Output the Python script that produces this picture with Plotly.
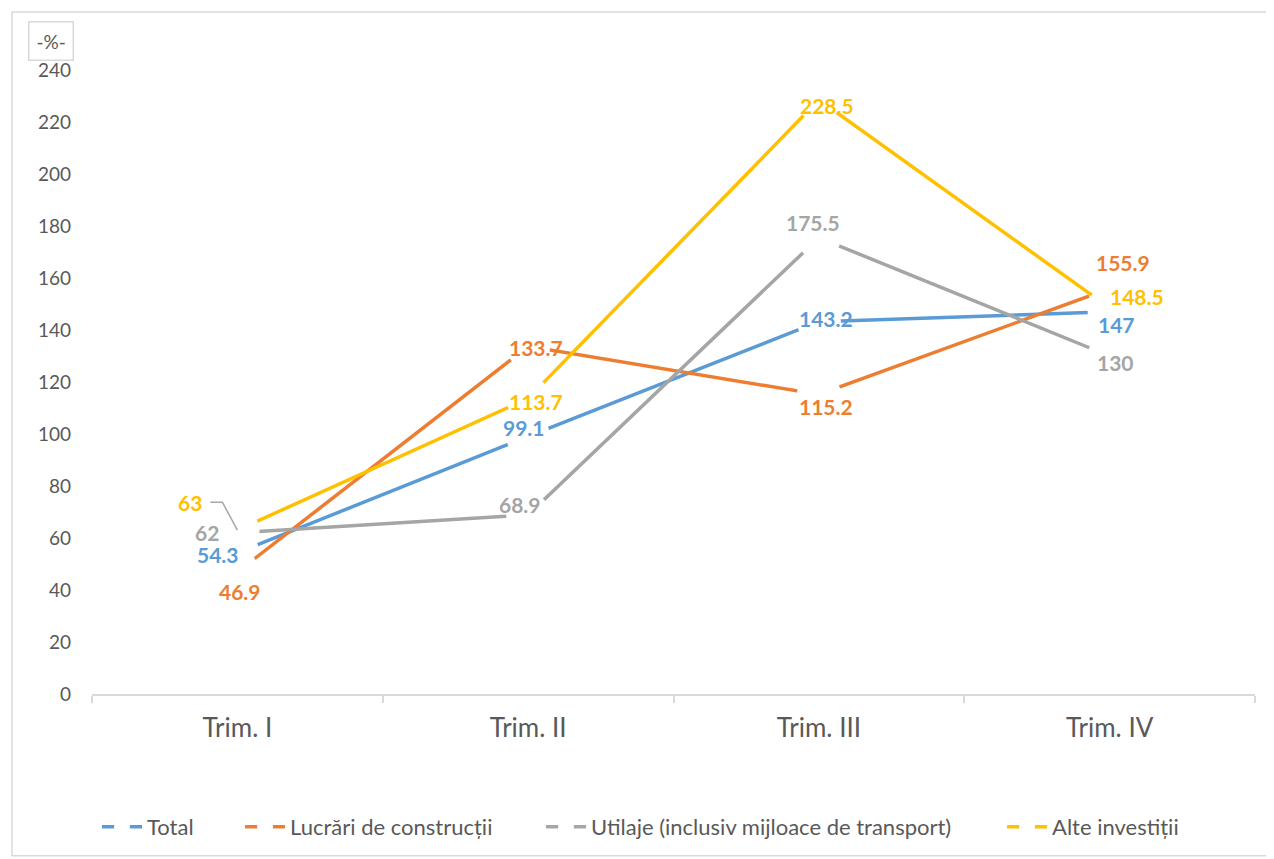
"""Investitii pe trimestre - grafic liniar in stil Excel."""

import plotly.graph_objects as go

quarters = ["Trim. I", "Trim. II", "Trim. III", "Trim. IV"]

total = [54.3, 99.1, 143.2, 147]
lucrari = [46.9, 133.7, 115.2, 155.9]
utilaje = [62, 68.9, 175.5, 130]
alte = [63, 113.7, 228.5, 148.5]

series_names = [
    "Total",
    "Lucrări de construcții",
    "Utilaje (inclusiv mijloace de transport)",
    "Alte investiții",
]
y_ticks = list(range(0, 241, 20))

COLORS = ["#5B9BD5", "#ED7D31", "#A5A5A5", "#FFC000"]
FONT = "Lato, 'Noto Sans', sans-serif"
TEXT_GREY = "#595959"
AXIS_GREY = "#D9D9D9"

# label offsets (px) per series, per quarter
LABEL_SHIFTS = [
    [(-19, -2), (-4, 9), (7, 3), (7, -13)],
    [(3, -19), (8, -1), (7, -12), (13, 26)],
    [(-30, 0), (-8, 10), (-6, 15), (6, -6)],
    [(-47, 28), (8, -3), (8, -6), (27, 11)],
]
# one legend per series so the entries sit where Excel put them (paper x)
LEGEND_X = [0.0043, 0.1273, 0.3861, 0.7825]
LEGEND_IDS = ["legend", "legend2", "legend3", "legend4"]

fig = go.Figure()
all_series = [total, lucrari, utilaje, alte]

for name, values, color, lid in zip(series_names, all_series, COLORS, LEGEND_IDS):
    fig.add_trace(
        go.Scatter(
            x=quarters,
            y=values,
            name=name,
            mode="lines+markers",
            line=dict(color=color, width=3.5),
            marker=dict(color="white", size=44, line=dict(width=0)),
            hoverinfo="skip",
            legend=lid,
        )
    )

annotations = []
for values, color, shifts in zip(all_series, COLORS, LABEL_SHIFTS):
    for q, v, (dx, dy) in zip(quarters, values, shifts):
        annotations.append(
            dict(
                x=q,
                y=v,
                xref="x",
                yref="y",
                text=f"<b>{v:g}</b>",
                showarrow=False,
                xshift=dx,
                yshift=dy,
                font=dict(family=FONT, size=21, color=color),
            )
        )

# "-%-" unit box
annotations.append(
    dict(
        x=-0.0353,
        y=1.0464,
        xref="paper",
        yref="paper",
        xanchor="center",
        yanchor="middle",
        text="-%-",
        showarrow=False,
        font=dict(family=FONT, size=19, color=TEXT_GREY),
        bordercolor=AXIS_GREY,
        borderwidth=1.5,
        borderpad=7,
        bgcolor="white",
    )
)

shapes = [
    # chart border
    dict(
        type="rect",
        xref="paper",
        yref="paper",
        x0=-0.0688,
        x1=1.0146,
        y0=-0.2592,
        y1=1.0928,
        line=dict(color=AXIS_GREY, width=1.5),
        layer="below",
    ),
    # leader line for the "63" label
    dict(
        type="path",
        xref="x",
        yref="y",
        xsizemode="pixel",
        ysizemode="pixel",
        xanchor=0,
        yanchor=alte[0],
        path="M -27,28 L -15,28 L 0,0",
        line=dict(color="#A6A6A6", width=1.5),
    ),
]

legend_style = dict(
    orientation="h",
    xanchor="left",
    y=-0.2112,
    yanchor="middle",
    font=dict(family=FONT, size=22, color=TEXT_GREY),
    itemwidth=40,
    bgcolor="rgba(0,0,0,0)",
)

# page body keeps an 8px margin, so the figure is 8px smaller on each axis
fig.update_layout(
    width=1266,
    height=851,
    margin=dict(l=84, r=19, t=62, b=164),
    paper_bgcolor="white",
    plot_bgcolor="white",
    font=dict(family=FONT, color=TEXT_GREY),
    showlegend=True,
    annotations=annotations,
    shapes=shapes,
)
for lid, lx in zip(LEGEND_IDS, LEGEND_X):
    fig.update_layout({lid: dict(legend_style, x=lx)})

fig.update_xaxes(
    type="category",
    range=[-0.5, 3.5],
    automargin=False,
    showline=True,
    linecolor=AXIS_GREY,
    linewidth=1.5,
    ticks="outside",
    tickson="boundaries",
    ticklen=7,
    tickcolor=AXIS_GREY,
    tickwidth=1.5,
    showgrid=False,
    tickfont=dict(family=FONT, size=26, color=TEXT_GREY),
    ticklabelstandoff=10,
)
fig.update_yaxes(
    range=[0, 240],
    automargin=False,
    tickvals=y_ticks,
    showline=False,
    showgrid=False,
    zeroline=False,
    ticks="",
    tickfont=dict(family=FONT, size=19, color=TEXT_GREY),
    ticklabelstandoff=20,
)

fig.write_html("out.html")
